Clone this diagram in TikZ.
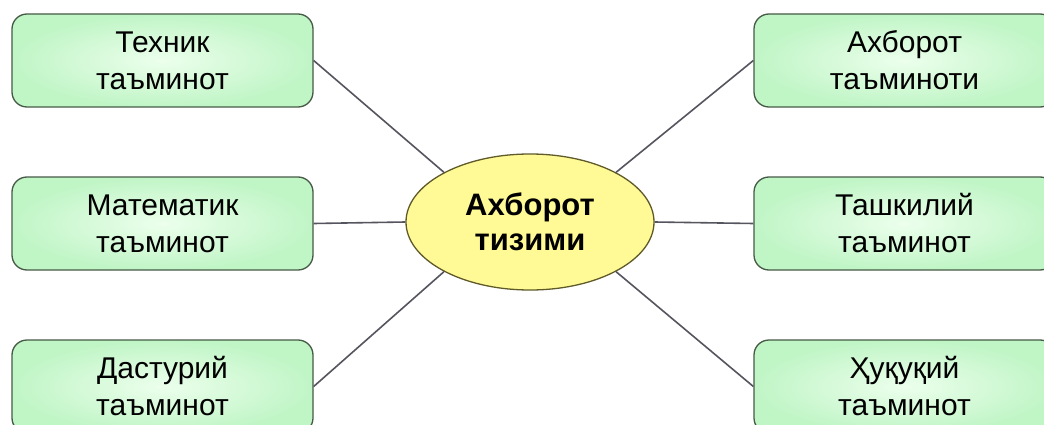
\documentclass[tikz,border=0pt]{standalone}
\usepackage{fontspec}
\setmainfont{Liberation Sans}
\usetikzlibrary{shapes.geometric}
\definecolor{boxrim}{RGB}{70,90,70}
\definecolor{boxin}{RGB}{236,255,236}
\definecolor{boxout}{RGB}{192,245,198}
\definecolor{hubfill}{RGB}{255,250,150}
\definecolor{hubrim}{RGB}{95,90,40}
\definecolor{spoke}{RGB}{85,85,95}
\tikzset{
  box/.style={draw=boxrim, line width=1.3pt, rounded corners=15pt,
    inner color=boxin, outer color=boxout,
    minimum width=301pt, minimum height=93pt, align=center,
    font=\fontsize{30}{37}\selectfont},
  hub/.style={ellipse, draw=hubrim, line width=1.3pt, fill=hubfill,
    minimum width=248pt, minimum height=136pt, inner sep=0pt, align=center,
    font=\bfseries\fontsize{31}{35}\selectfont}
}
\begin{document}
\begin{tikzpicture}[x=1pt,y=-1pt]
  \useasboundingbox (0,0) rectangle (1044,425);
  \clip (0,0) rectangle (1044,425);
  \fill[white] (0,0) rectangle (1044,425);
  \draw
    (530,222) node[hub] (c){Ахборот\\тизими}
    (162.5,60.5) node[box] (1){Техник\\таъминот}
    (162.5,223.5) node[box] (2){Математик\\таъминот}
    (162.5,386.5) node[box] (3){Дастурий\\таъминот}
    (904.5,60.5) node[box] (4){Ахборот\\таъминоти}
    (904.5,223.5) node[box] (5){Ташкилий\\таъминот}
    (904.5,386.5) node[box] (6){Ҳуқуқий\\таъминот};
  \begin{scope}[-, draw=spoke, line width=1.6pt]
    \draw (1.east) to (c.150);
    \draw (2.east) to (c.west);
    \draw (3.east) to (c.210);
    \draw (4.west) to (c.30);
    \draw (5.west) to (c.east);
    \draw (6.west) to (c.-30);
  \end{scope}
\end{tikzpicture}
\end{document}
